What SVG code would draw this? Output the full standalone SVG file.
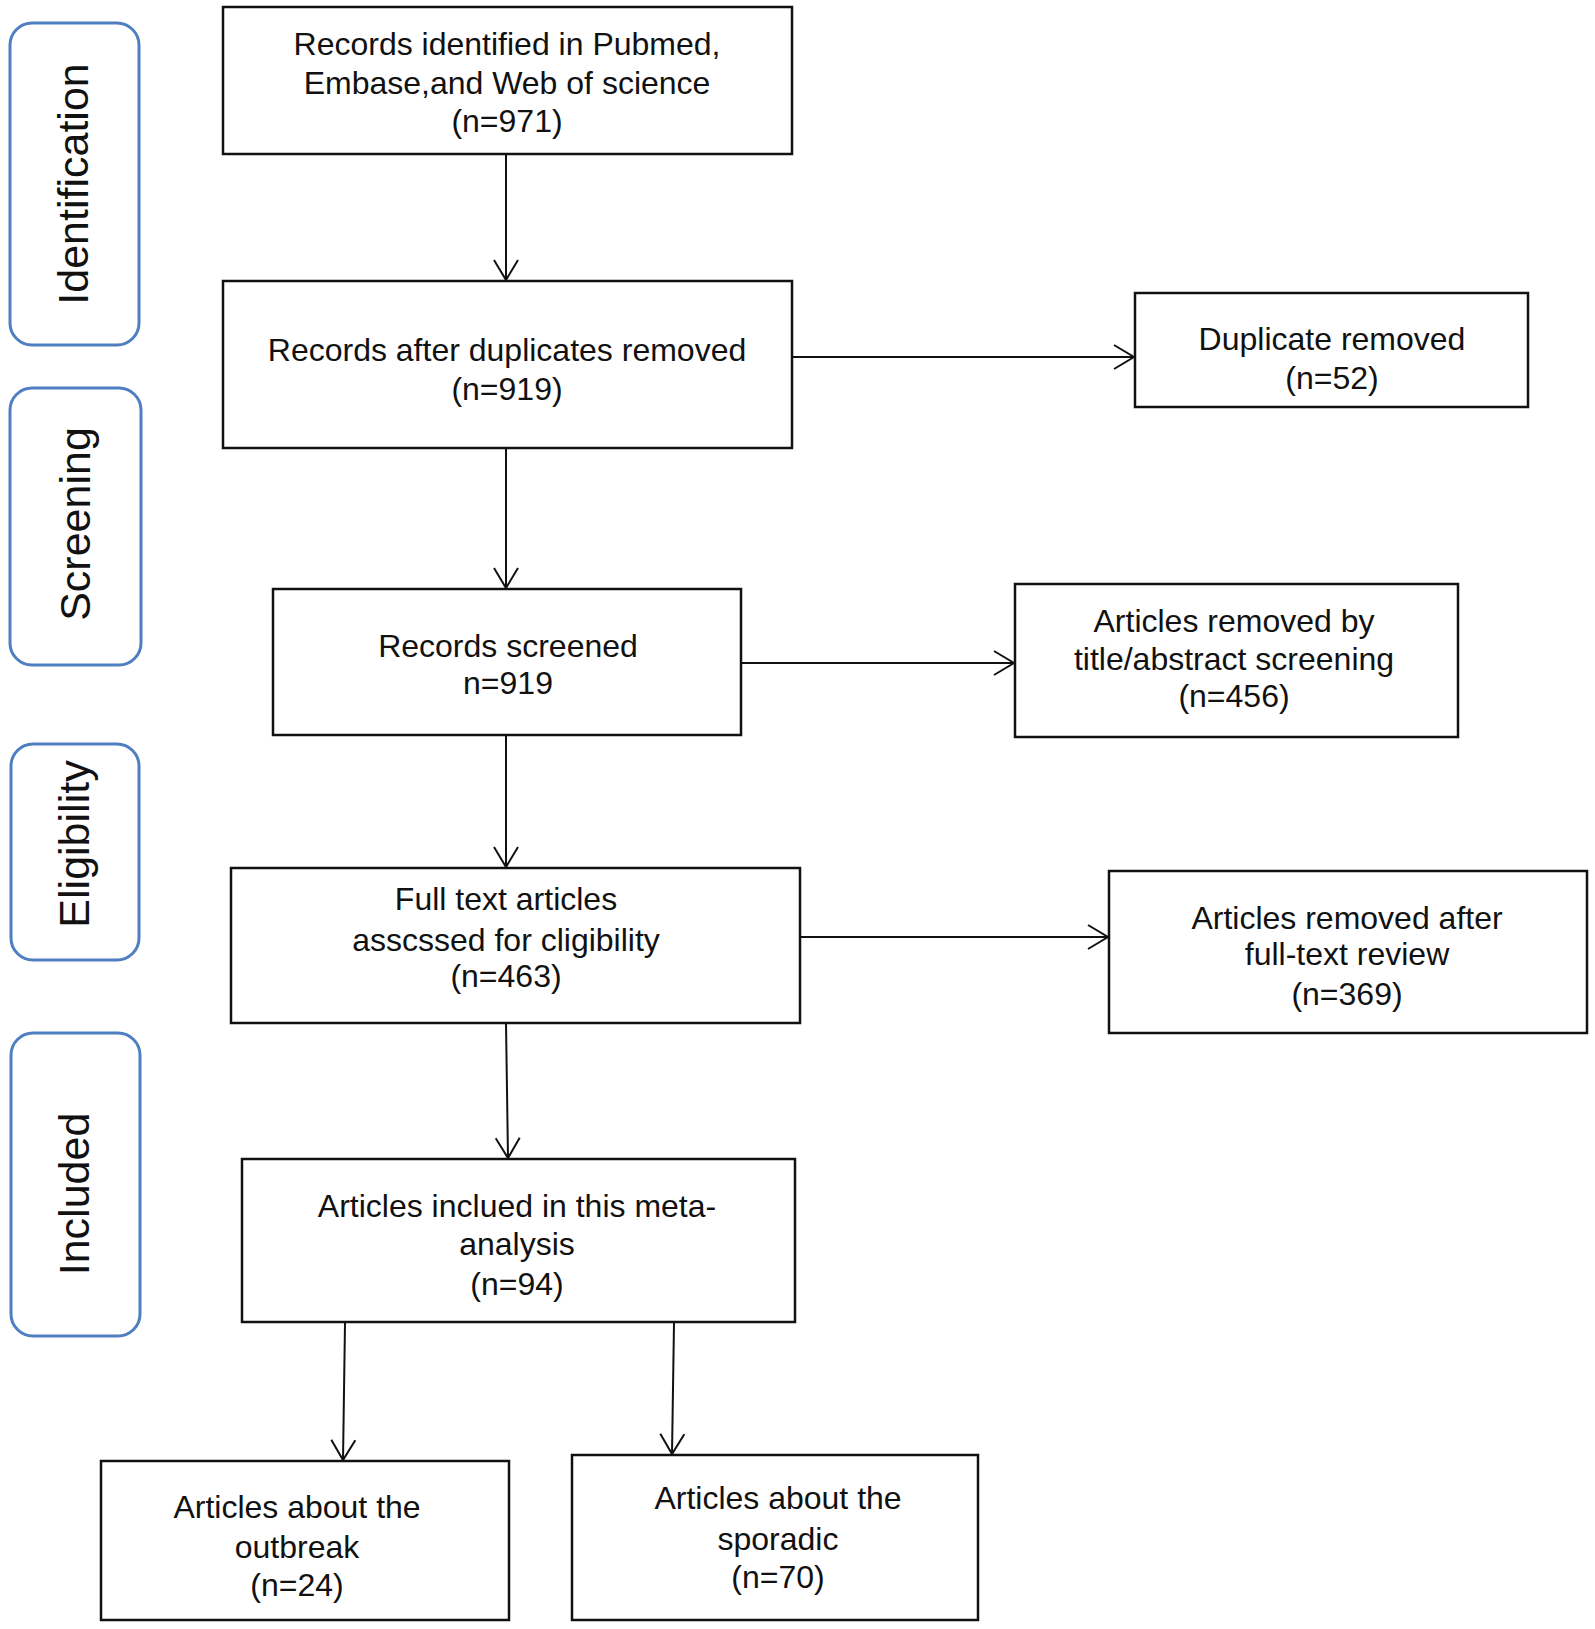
<svg xmlns="http://www.w3.org/2000/svg" width="1595" height="1629" viewBox="0 0 1595 1629">
<defs>
<style>
.box{fill:#fff;stroke:#111;stroke-width:2.5}
.stage{fill:#fff;stroke:#4f7fc0;stroke-width:3}
.t{font-family:"Liberation Sans",Arial,sans-serif;font-size:32px;fill:#111;text-anchor:middle}
.st{font-family:"Liberation Sans",Arial,sans-serif;font-size:43px;fill:#111;text-anchor:middle}
.c{stroke:#111;stroke-width:2;fill:none}
</style>
<marker id="ah" markerUnits="userSpaceOnUse" markerWidth="26" markerHeight="28" refX="21" refY="13" orient="auto" viewBox="0 0 26 28">
<path d="M1,1 L21,13 L1,25" fill="none" stroke="#111" stroke-width="2"/>
</marker>
</defs>
<rect width="1595" height="1629" fill="#fff"/>

<g id="stage-identification">
<rect class="stage" x="10" y="23" width="129" height="322" rx="22"/>
<text class="st" transform="translate(73,184) rotate(-90)" dy="0.36em">Identification</text>
</g>
<g id="stage-screening">
<rect class="stage" x="10" y="388" width="131" height="277" rx="22"/>
<text class="st" transform="translate(75,524) rotate(-90)" dy="0.36em">Screening</text>
</g>
<g id="stage-eligibility">
<rect class="stage" x="11" y="744" width="128" height="216" rx="22"/>
<text class="st" transform="translate(74,844) rotate(-90)" dy="0.36em">Eligibility</text>
</g>
<g id="stage-included">
<rect class="stage" x="11" y="1033" width="129" height="303" rx="22"/>
<text class="st" transform="translate(74,1194) rotate(-90)" dy="0.36em">Included</text>
</g>

<g id="connectors">
<line class="c" x1="506" y1="154" x2="506" y2="280" marker-end="url(#ah)"/>
<line class="c" x1="792" y1="357" x2="1134" y2="357" marker-end="url(#ah)"/>
<line class="c" x1="506" y1="448" x2="506" y2="588" marker-end="url(#ah)"/>
<line class="c" x1="741" y1="663" x2="1014" y2="663" marker-end="url(#ah)"/>
<line class="c" x1="506" y1="735" x2="506" y2="867" marker-end="url(#ah)"/>
<line class="c" x1="800" y1="937" x2="1108" y2="937" marker-end="url(#ah)"/>
<line class="c" x1="506" y1="1023" x2="508" y2="1158" marker-end="url(#ah)"/>
<line class="c" x1="345" y1="1323" x2="343" y2="1460" marker-end="url(#ah)"/>
<line class="c" x1="674" y1="1323" x2="672" y2="1454" marker-end="url(#ah)"/>
</g>

<g id="n-identified">
<rect class="box" x="223" y="7" width="569" height="147"/>
<text class="t" x="507" y="55">Records identified in Pubmed,</text>
<text class="t" x="507" y="94">Embase,and Web of science</text>
<text class="t" x="507" y="132">(n=971)</text>
</g>
<g id="n-after-dup">
<rect class="box" x="223" y="281" width="569" height="167"/>
<text class="t" x="507" y="361">Records after duplicates removed</text>
<text class="t" x="507" y="400">(n=919)</text>
</g>
<g id="n-dup-removed">
<rect class="box" x="1135" y="293" width="393" height="114"/>
<text class="t" x="1332" y="350">Duplicate removed</text>
<text class="t" x="1332" y="389">(n=52)</text>
</g>
<g id="n-screened">
<rect class="box" x="273" y="589" width="468" height="146"/>
<text class="t" x="508" y="657">Records screened</text>
<text class="t" x="508" y="694">n=919</text>
</g>
<g id="n-title-removed">
<rect class="box" x="1015" y="584" width="443" height="153"/>
<text class="t" x="1234" y="632">Articles removed by</text>
<text class="t" x="1234" y="670">title/abstract screening</text>
<text class="t" x="1234" y="707">(n=456)</text>
</g>
<g id="n-fulltext">
<rect class="box" x="231" y="868" width="569" height="155"/>
<text class="t" x="506" y="910">Full text articles</text>
<text class="t" x="506" y="951">asscssed for cligibility</text>
<text class="t" x="506" y="987">(n=463)</text>
</g>
<g id="n-fulltext-removed">
<rect class="box" x="1109" y="871" width="478" height="162"/>
<text class="t" x="1347" y="929">Articles removed after</text>
<text class="t" x="1347" y="965">full-text review</text>
<text class="t" x="1347" y="1005">(n=369)</text>
</g>
<g id="n-included">
<rect class="box" x="242" y="1159" width="553" height="163"/>
<text class="t" x="517" y="1217">Articles inclued in this meta-</text>
<text class="t" x="517" y="1255">analysis</text>
<text class="t" x="517" y="1295">(n=94)</text>
</g>
<g id="n-outbreak">
<rect class="box" x="101" y="1461" width="408" height="159"/>
<text class="t" x="297" y="1518">Articles about the</text>
<text class="t" x="297" y="1558">outbreak</text>
<text class="t" x="297" y="1596">(n=24)</text>
</g>
<g id="n-sporadic">
<rect class="box" x="572" y="1455" width="406" height="165"/>
<text class="t" x="778" y="1509">Articles about the</text>
<text class="t" x="778" y="1550">sporadic</text>
<text class="t" x="778" y="1588">(n=70)</text>
</g>
</svg>
